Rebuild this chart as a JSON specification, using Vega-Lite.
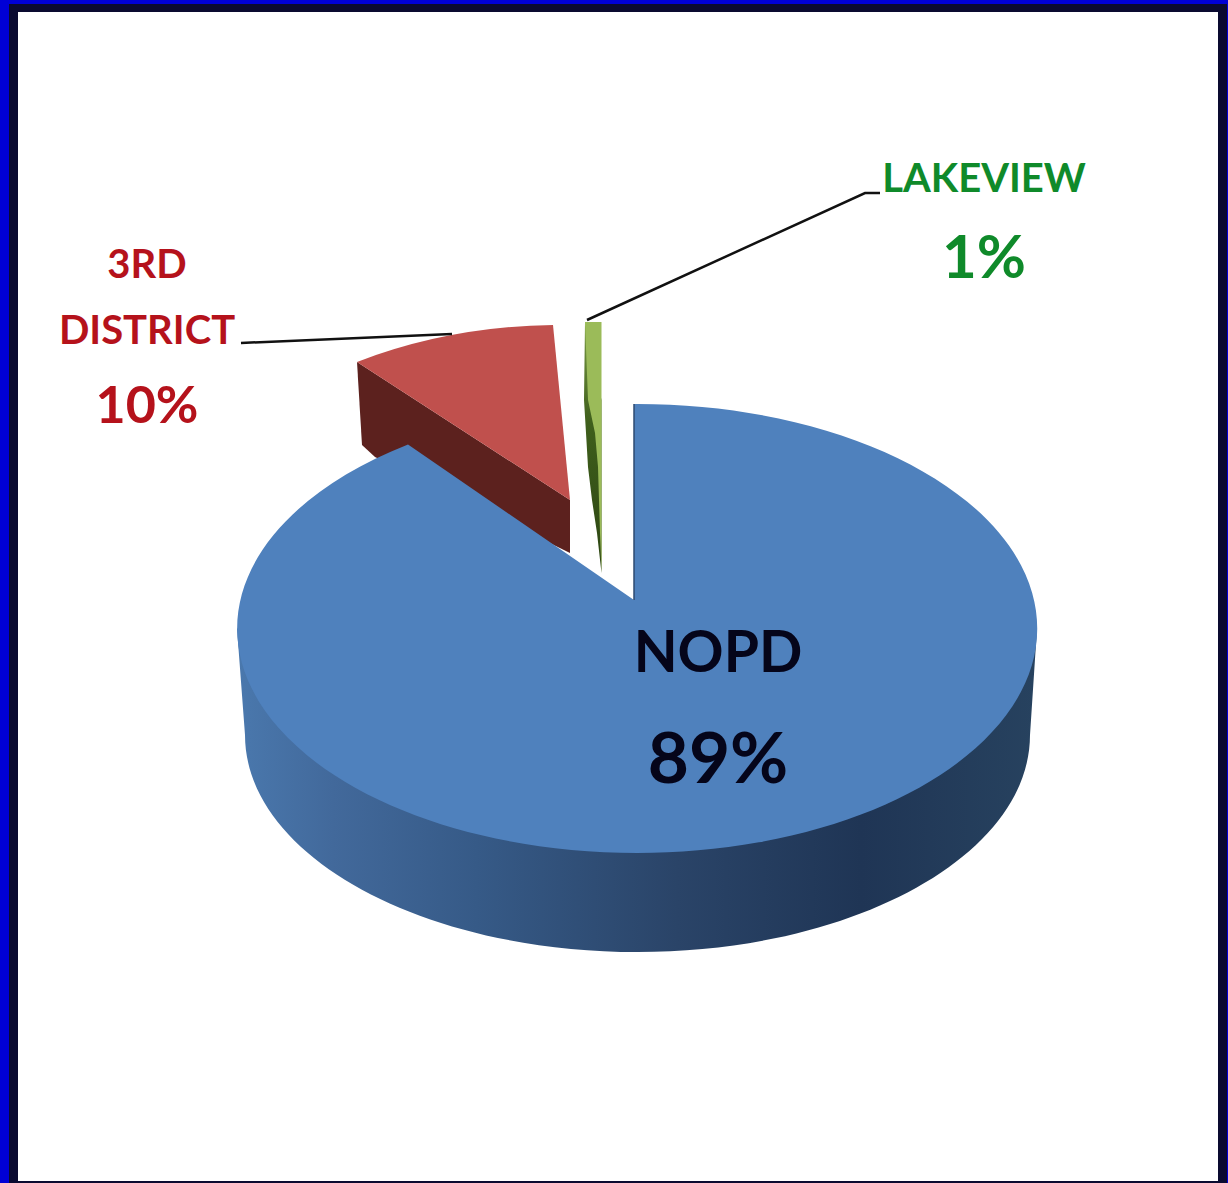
{
"$schema":"https://vega.github.io/schema/vega-lite/v6.json",
"width":1218,"height":1179,"autosize":"none",
"padding":{"left":9,"top":4,"right":1,"bottom":0},
"background":"#0000d6",
"view":{"fill":"#0a0a30","stroke":null},
"data":{"values":[
{"category":"NOPD","share":0.89},
{"category":"3RD DISTRICT","share":0.10},
{"category":"LAKEVIEW","share":0.01}
]},
"layer":[
{"transform":[{"filter":"datum.category==='NOPD'"}],"mark":{"type":"rect","fill":"#ffffff"},
 "encoding":{"x":{"datum":18,"type":"quantitative","scale":{"domain":[9,1227],"nice":false,"zero":false},"axis":null},"x2":{"datum":1218},
 "y":{"datum":12,"type":"quantitative","scale":{"domain":[4,1183],"nice":false,"zero":false,"reverse":true},"axis":null},"y2":{"datum":1181}}},
{"transform":[{"filter":"datum.category==='3RD DISTRICT'"}],"mark":{"type":"point","filled":true,"opacity":1,"fill":"#5c211e"},
 "encoding":{"x":{"datum":636,"type":"quantitative","scale":{"domain":[9,1227],"nice":false,"zero":false},"axis":null},
 "y":{"datum":600,"type":"quantitative","scale":{"domain":[4,1183],"nice":false,"zero":false,"reverse":true},"axis":null},
 "size":{"value":4},"shape":{"value":"M-279,-238 L-274,-155 L-261,-143 L-66,-47 L-66,-100 Z"}}},
{"transform":[{"filter":"datum.category==='3RD DISTRICT'"}],"mark":{"type":"point","filled":true,"opacity":1,"fill":"#c0504d"},
 "encoding":{"x":{"datum":636,"type":"quantitative","scale":{"domain":[9,1227],"nice":false,"zero":false},"axis":null},
 "y":{"datum":600,"type":"quantitative","scale":{"domain":[4,1183],"nice":false,"zero":false,"reverse":true},"axis":null},
 "size":{"value":4},"shape":{"value":"M-279,-238 Q-187,-273.5 -83,-275 L-66,-100 Z"}}},
{"transform":[{"filter":"datum.category==='LAKEVIEW'"}],"mark":{"type":"point","filled":true,"opacity":1,"fill":{"gradient":"linear","x1":0,"y1":0,"x2":0,"y2":1,"stops":[{"offset":0,"color":"#7a9a45"},{"offset":0.4,"color":"#3f5f1c"},{"offset":1,"color":"#2c4512"}]}},
 "encoding":{"x":{"datum":636,"type":"quantitative","scale":{"domain":[9,1227],"nice":false,"zero":false},"axis":null},
 "y":{"datum":600,"type":"quantitative","scale":{"domain":[4,1183],"nice":false,"zero":false,"reverse":true},"axis":null},
 "size":{"value":4},"shape":{"value":"M-51,-278 L-52,-200 L-50,-167 L-48,-133 L-44,-100 L-39,-67 L-34.5,-27 L-34.5,-200 Z"}}},
{"transform":[{"filter":"datum.category==='LAKEVIEW'"}],"mark":{"type":"point","filled":true,"opacity":1,"fill":"#9bbb59"},
 "encoding":{"x":{"datum":636,"type":"quantitative","scale":{"domain":[9,1227],"nice":false,"zero":false},"axis":null},
 "y":{"datum":600,"type":"quantitative","scale":{"domain":[4,1183],"nice":false,"zero":false,"reverse":true},"axis":null},
 "size":{"value":4},"shape":{"value":"M-51,-278 L-34.5,-278 L-34.5,-27 L-36,-67 L-38,-133 L-41,-167 L-48,-200 Z"}}},
{"transform":[{"filter":"datum.category==='NOPD'"}],"mark":{"type":"point","filled":true,"opacity":1,"fill":{"gradient":"linear","x1":0,"y1":0,"x2":1,"y2":0,"stops":[{"offset":0,"color":"#4a78ad"},{"offset":0.12,"color":"#42699b"},{"offset":0.3,"color":"#365a87"},{"offset":0.55,"color":"#2a4468"},{"offset":0.78,"color":"#1f3555"},{"offset":1,"color":"#27425f"}]}},
 "encoding":{"x":{"datum":636,"type":"quantitative","scale":{"domain":[9,1227],"nice":false,"zero":false},"axis":null},
 "y":{"datum":600,"type":"quantitative","scale":{"domain":[4,1183],"nice":false,"zero":false,"reverse":true},"axis":null},
 "size":{"value":4},"shape":{"value":"M401,28.5 L394,135 A392.5,217 0 0 1 -391,135 L-399,28.5 Z"}}},
{"transform":[{"filter":"datum.category==='NOPD'"}],"mark":{"type":"point","filled":true,"opacity":1,"fill":"#4f81bd"},
 "encoding":{"x":{"datum":636,"type":"quantitative","scale":{"domain":[9,1227],"nice":false,"zero":false},"axis":null},
 "y":{"datum":600,"type":"quantitative","scale":{"domain":[4,1183],"nice":false,"zero":false,"reverse":true},"axis":null},
 "size":{"value":4},"shape":{"value":"M-2,-196 A400,224.5 0 1 1 -228,-155.5 L-2,0 Z"}}},
{"transform":[{"filter":"datum.category==='NOPD'"}],"mark":{"type":"point","filled":false,"opacity":1,"stroke":"#2c4a70","strokeWidth":1.5},
 "encoding":{"x":{"datum":636,"type":"quantitative","scale":{"domain":[9,1227],"nice":false,"zero":false},"axis":null},
 "y":{"datum":600,"type":"quantitative","scale":{"domain":[4,1183],"nice":false,"zero":false,"reverse":true},"axis":null},
 "size":{"value":4},"shape":{"value":"M-2,-196 L-2,0"}}},
{"transform":[{"filter":"datum.category==='3RD DISTRICT'"}],"mark":{"type":"point","filled":false,"opacity":1,"stroke":"#111111","strokeWidth":2.5},
 "encoding":{"x":{"datum":636,"type":"quantitative","scale":{"domain":[9,1227],"nice":false,"zero":false},"axis":null},
 "y":{"datum":600,"type":"quantitative","scale":{"domain":[4,1183],"nice":false,"zero":false,"reverse":true},"axis":null},
 "size":{"value":4},"shape":{"value":"M-395,-257 L-184,-266"}}},
{"transform":[{"filter":"datum.category==='LAKEVIEW'"}],"mark":{"type":"point","filled":false,"opacity":1,"stroke":"#111111","strokeWidth":2.5},
 "encoding":{"x":{"datum":636,"type":"quantitative","scale":{"domain":[9,1227],"nice":false,"zero":false},"axis":null},
 "y":{"datum":600,"type":"quantitative","scale":{"domain":[4,1183],"nice":false,"zero":false,"reverse":true},"axis":null},
 "size":{"value":4},"shape":{"value":"M-49,-280 L229,-407 L244,-407"}}},
{"transform":[{"filter":"datum.category==='NOPD'"}],"mark":{"type":"text","font":"Lato","fontWeight":"bold","fontSize":57,"align":"center","baseline":"alphabetic","color":"#05051a"},
 "encoding":{"text":{"field":"category"},"x":{"datum":718,"type":"quantitative","scale":{"domain":[9,1227],"nice":false,"zero":false},"axis":null},
 "y":{"datum":672,"type":"quantitative","scale":{"domain":[4,1183],"nice":false,"zero":false,"reverse":true},"axis":null}}},
{"transform":[{"filter":"datum.category==='NOPD'"}],"mark":{"type":"text","font":"Lato","fontWeight":"bold","fontSize":71,"align":"center","baseline":"alphabetic","color":"#05051a"},
 "encoding":{"text":{"field":"share","format":".0%"},"x":{"datum":718,"type":"quantitative","scale":{"domain":[9,1227],"nice":false,"zero":false},"axis":null},
 "y":{"datum":783,"type":"quantitative","scale":{"domain":[4,1183],"nice":false,"zero":false,"reverse":true},"axis":null}}},
{"transform":[{"filter":"datum.category==='3RD DISTRICT'"}],"mark":{"type":"text","font":"Lato","fontWeight":"bold","fontSize":40,"align":"center","baseline":"alphabetic","color":"#b5121b","lineBreak":" ","lineHeight":66},
 "encoding":{"text":{"field":"category"},"x":{"datum":147,"type":"quantitative","scale":{"domain":[9,1227],"nice":false,"zero":false},"axis":null},
 "y":{"datum":278,"type":"quantitative","scale":{"domain":[4,1183],"nice":false,"zero":false,"reverse":true},"axis":null}}},
{"transform":[{"filter":"datum.category==='3RD DISTRICT'"}],"mark":{"type":"text","font":"Lato","fontWeight":"bold","fontSize":52,"align":"center","baseline":"alphabetic","color":"#b5121b"},
 "encoding":{"text":{"field":"share","format":".0%"},"x":{"datum":147,"type":"quantitative","scale":{"domain":[9,1227],"nice":false,"zero":false},"axis":null},
 "y":{"datum":423,"type":"quantitative","scale":{"domain":[4,1183],"nice":false,"zero":false,"reverse":true},"axis":null}}},
{"transform":[{"filter":"datum.category==='LAKEVIEW'"}],"mark":{"type":"text","font":"Lato","fontWeight":"bold","fontSize":40,"align":"center","baseline":"alphabetic","color":"#0f8a2a"},
 "encoding":{"text":{"field":"category"},"x":{"datum":984,"type":"quantitative","scale":{"domain":[9,1227],"nice":false,"zero":false},"axis":null},
 "y":{"datum":192,"type":"quantitative","scale":{"domain":[4,1183],"nice":false,"zero":false,"reverse":true},"axis":null}}},
{"transform":[{"filter":"datum.category==='LAKEVIEW'"}],"mark":{"type":"text","font":"Lato","fontWeight":"bold","fontSize":60,"align":"center","baseline":"alphabetic","color":"#0f8a2a"},
 "encoding":{"text":{"field":"share","format":".0%"},"x":{"datum":984,"type":"quantitative","scale":{"domain":[9,1227],"nice":false,"zero":false},"axis":null},
 "y":{"datum":278,"type":"quantitative","scale":{"domain":[4,1183],"nice":false,"zero":false,"reverse":true},"axis":null}}}
]
}
